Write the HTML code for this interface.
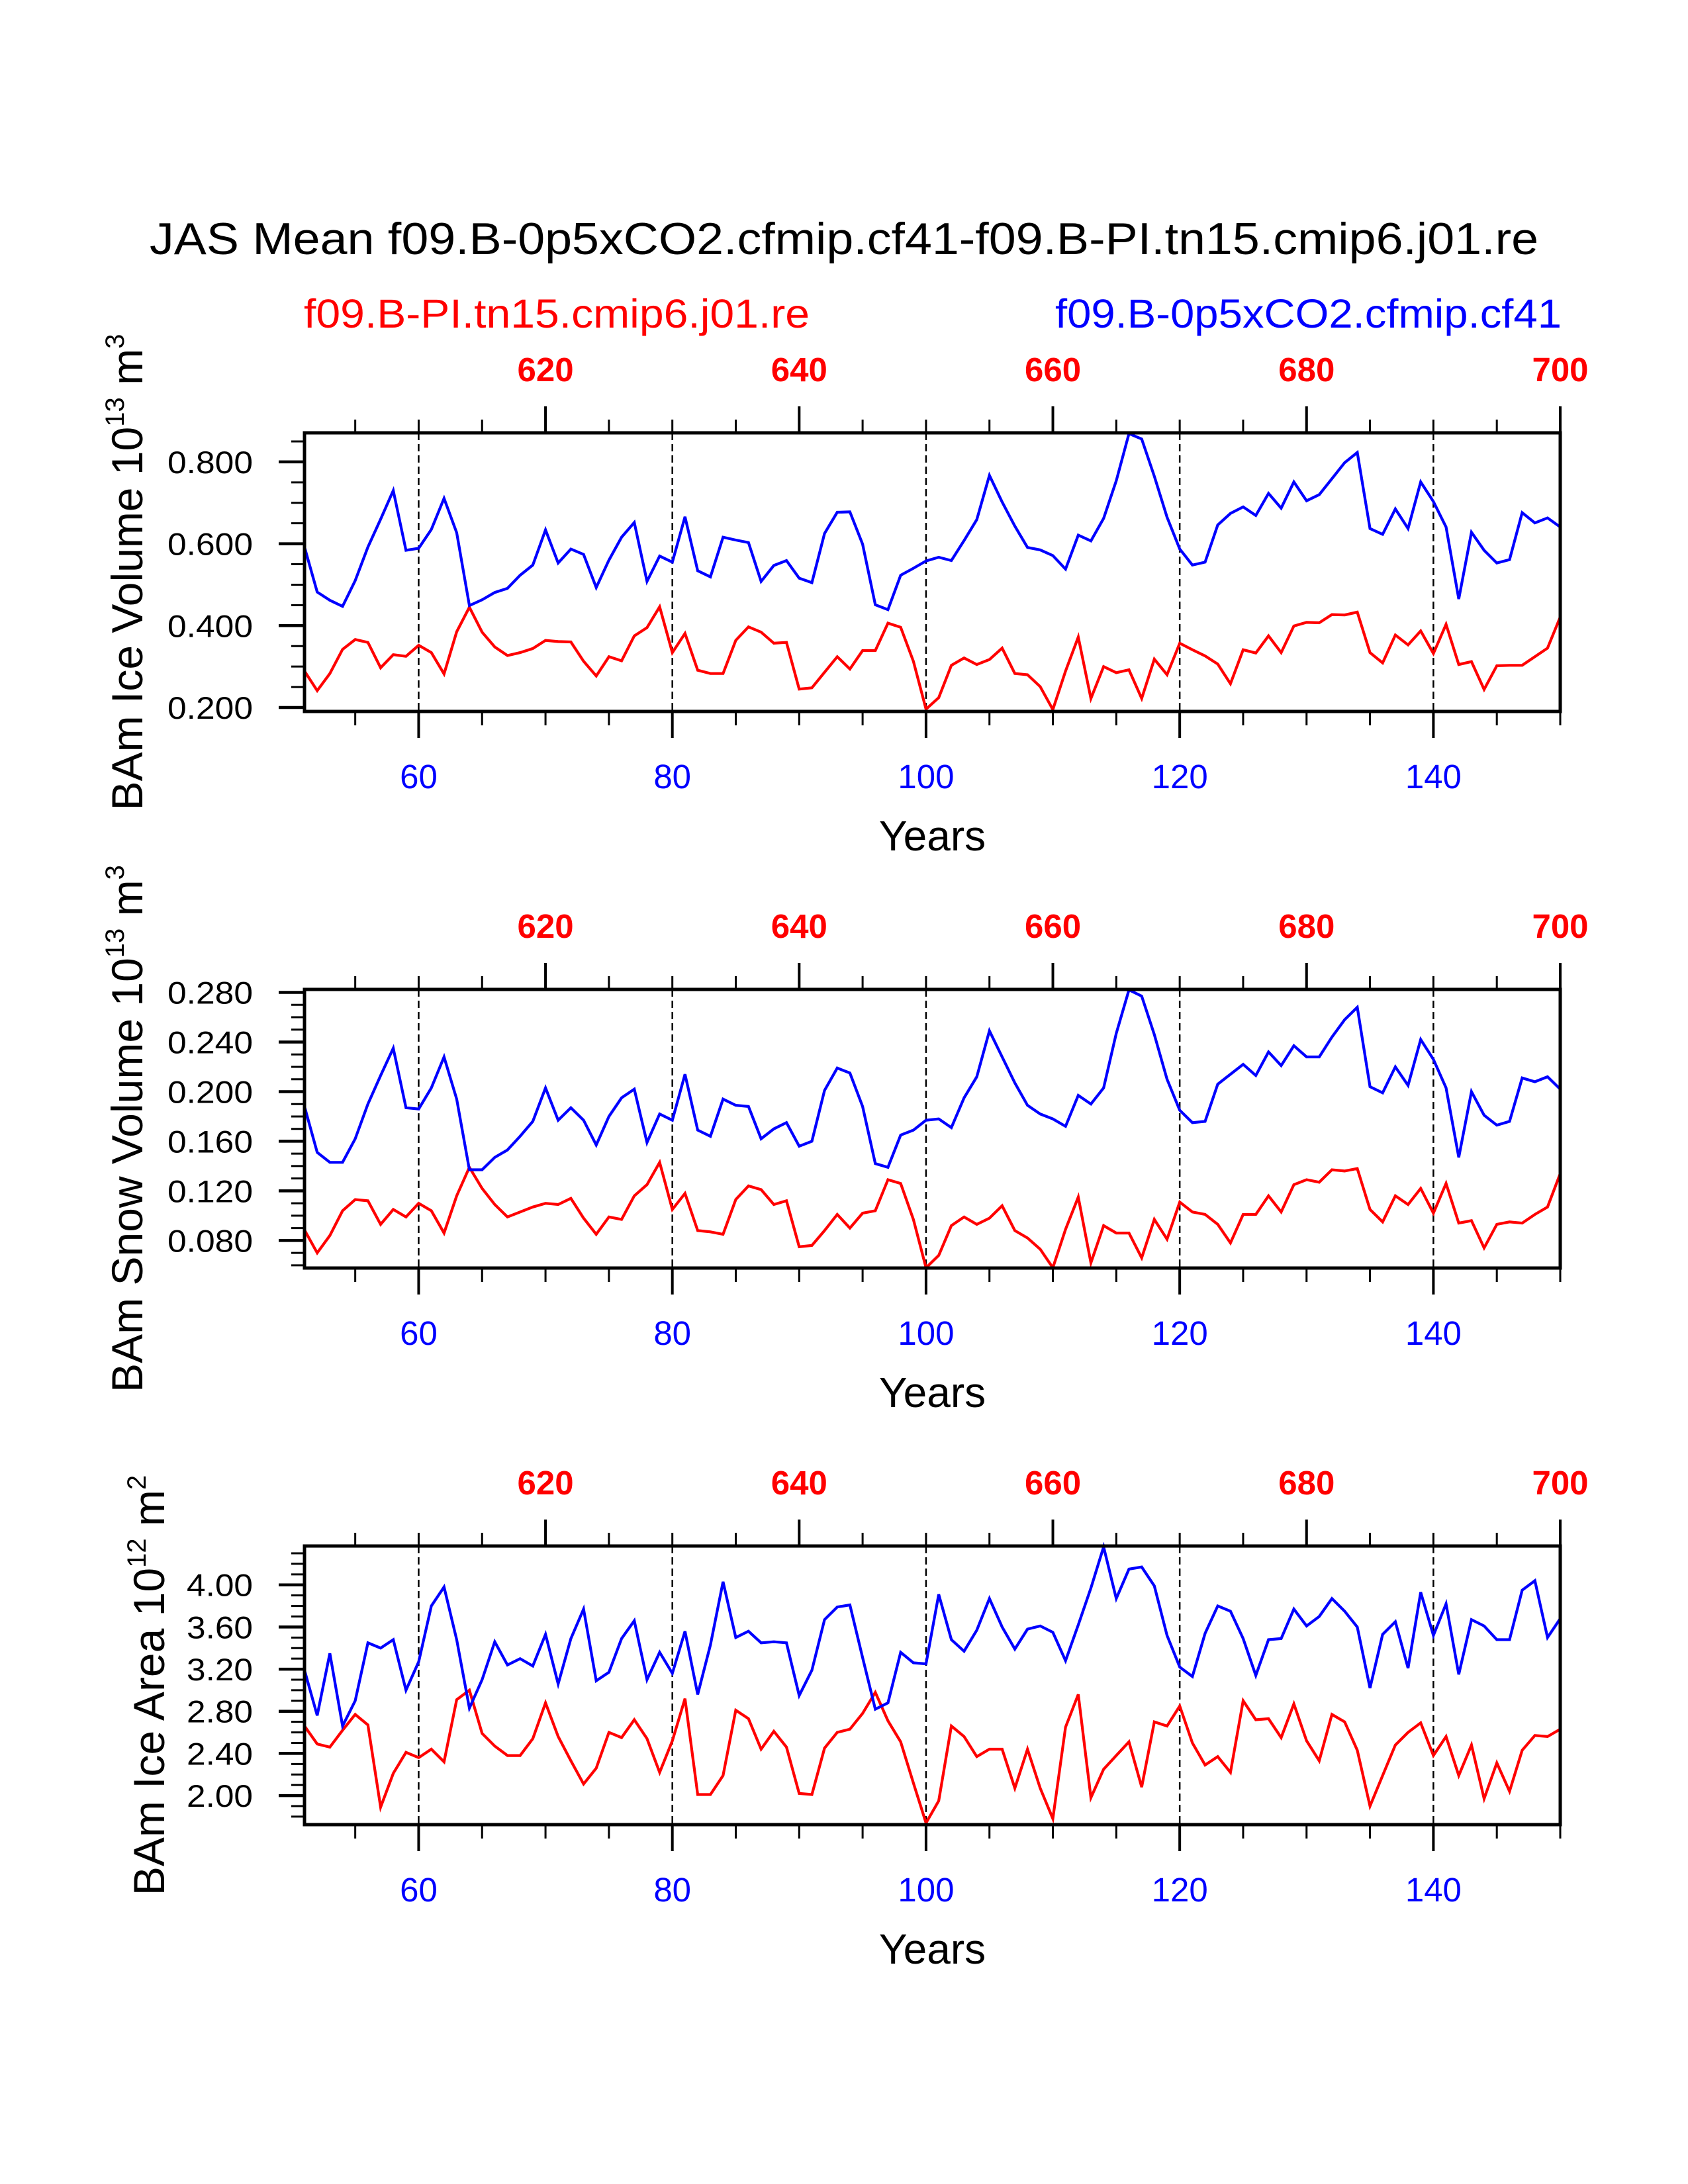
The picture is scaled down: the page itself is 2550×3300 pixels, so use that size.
<!DOCTYPE html>
<html><head><meta charset="utf-8"><style>
html,body{margin:0;padding:0;background:#fff;}
svg{display:block;font-family:"Liberation Sans",Arial,sans-serif;}
</style></head><body>
<svg id="fig" width="2550" height="3300" viewBox="0 0 2550 3300" xmlns="http://www.w3.org/2000/svg">
<rect x="0" y="0" width="2550" height="3300" fill="#fff"/>
<text x="1275" y="384" font-size="68" text-anchor="middle" fill="#000" textLength="2098" lengthAdjust="spacingAndGlyphs">JAS Mean f09.B-0p5xCO2.cfmip.cf41-f09.B-PI.tn15.cmip6.j01.re</text>
<text x="459" y="495" font-size="61" fill="#ff0000" textLength="764" lengthAdjust="spacingAndGlyphs">f09.B-PI.tn15.cmip6.j01.re</text>
<text x="1594" y="495" font-size="61" fill="#0000ff" textLength="765" lengthAdjust="spacingAndGlyphs">f09.B-0p5xCO2.cfmip.cf41</text>
</svg>
<script>
// Shared x data
const yearStart = 51;
const yearEnd = 150;
const bottomTicks = [60, 80, 100, 120, 140];
const topTickLabels = ["620", "640", "660", "680", "700"];
const topTickYears = [70, 90, 110, 130, 150];

// Panel 1: Ice Volume
const iceVolRed = [0.289,0.241,0.283,0.342,0.366,0.359,0.297,0.329,0.325,0.352,0.334,0.282,0.385,0.445,0.384,0.348,0.327,0.334,0.344,0.364,0.361,0.360,0.313,0.277,0.324,0.314,0.375,0.395,0.446,0.334,0.381,0.291,0.283,0.283,0.364,0.397,0.384,0.357,0.359,0.245,0.248,0.286,0.324,0.294,0.339,0.339,0.406,0.396,0.313,0.196,
0.224,0.303,0.321,0.305,0.317,0.345,0.283,0.280,0.251,0.195,0.289,0.372,0.222,0.300,0.285,0.292,0.222,0.318,0.280,0.357,0.341,0.326,0.306,0.258,0.341,0.333,0.375,0.334,0.399,0.408,0.407,0.427,0.426,0.433,0.334,0.309,0.377,0.353,0.387,0.332,0.403,0.305,0.312,0.244,0.302,0.303,0.303,0.324,0.345,0.421];
const iceVolBlue = [0.592,0.482,0.462,0.447,0.510,0.592,0.660,0.730,0.584,0.589,0.635,0.711,0.627,0.449,0.463,0.481,0.491,0.523,0.548,0.634,0.553,0.587,0.574,0.493,0.560,0.616,0.652,0.508,0.570,0.555,0.666,0.534,0.519,0.616,0.609,0.603,0.508,0.547,0.559,0.516,0.505,0.625,0.677,0.678,0.599,0.451,0.439,0.523,0.540,0.558,
0.567,0.559,0.608,0.659,0.767,0.702,0.643,0.591,0.585,0.571,0.538,0.621,0.607,0.662,0.754,0.869,0.856,0.765,0.665,0.587,0.548,0.555,0.646,0.674,0.690,0.669,0.723,0.687,0.751,0.705,0.720,0.759,0.798,0.823,0.637,0.623,0.685,0.637,0.751,0.703,0.641,0.465,0.628,0.584,0.553,0.561,0.676,0.651,0.663,0.641];
const iceVolTicks = ["0.200","0.400","0.600","0.800"];

// Panel 2: Snow Volume
const snowVolRed = [0.0885,0.070,0.084,0.104,0.113,0.112,0.093,0.105,0.099,0.110,0.104,0.086,0.116,0.139,0.122,0.109,0.099,0.103,0.107,0.110,0.109,0.114,0.098,0.085,0.099,0.097,0.116,0.125,0.143,0.105,0.118,0.088,0.087,0.085,0.113,0.124,0.121,0.109,0.112,0.075,0.076,0.088,0.101,0.090,0.102,0.104,0.129,0.126,0.097,0.058,
0.068,0.092,0.099,0.093,0.098,0.108,0.088,0.082,0.073,0.058,0.089,0.115,0.062,0.092,0.086,0.086,0.066,0.097,0.081,0.111,0.103,0.101,0.093,0.078,0.101,0.101,0.116,0.103,0.125,0.129,0.127,0.137,0.136,0.138,0.105,0.095,0.116,0.109,0.122,0.102,0.126,0.094,0.096,0.074,0.093,0.095,0.094,0.101,0.107,0.134];
const snowVolBlue = [0.188,0.151,0.143,0.143,0.162,0.190,0.213,0.235,0.187,0.186,0.203,0.228,0.194,0.137,0.137,0.147,0.153,0.164,0.176,0.203,0.177,0.187,0.177,0.157,0.180,0.195,0.202,0.159,0.182,0.177,0.214,0.169,0.164,0.194,0.189,0.188,0.162,0.170,0.175,0.156,0.160,0.201,0.219,0.215,0.188,0.142,0.139,0.165,0.169,0.177,
0.178,0.171,0.195,0.212,0.249,0.228,0.207,0.189,0.182,0.178,0.172,0.197,0.190,0.203,0.247,0.282,0.277,0.246,0.210,0.185,0.175,0.176,0.206,0.214,0.222,0.213,0.232,0.221,0.237,0.228,0.228,0.244,0.258,0.268,0.204,0.199,0.220,0.205,0.242,0.226,0.203,0.147,0.200,0.181,0.173,0.176,0.211,0.208,0.212,0.202];
const snowVolTicks = ["0.080","0.120","0.160","0.200","0.240","0.280"];

// Panel 3: Ice Area
const iceAreaRed = [2.66,2.49,2.46,2.62,2.77,2.67,1.89,2.21,2.41,2.36,2.44,2.32,2.91,3.00,2.59,2.47,2.38,2.38,2.54,2.88,2.56,2.33,2.11,2.26,2.60,2.55,2.72,2.54,2.22,2.52,2.92,2.01,2.01,2.19,2.81,2.73,2.44,2.61,2.46,2.02,2.01,2.45,2.60,2.63,2.78,2.98,2.71,2.51,2.12,1.74,
1.95,2.66,2.56,2.37,2.44,2.44,2.07,2.44,2.07,1.78,2.65,2.96,1.98,2.25,2.38,2.51,2.08,2.70,2.66,2.85,2.50,2.29,2.37,2.22,2.90,2.72,2.73,2.55,2.87,2.52,2.33,2.77,2.70,2.43,1.90,2.19,2.48,2.60,2.69,2.38,2.56,2.19,2.48,1.97,2.31,2.04,2.43,2.57,2.56,2.63];
const iceAreaBlue = [3.19,2.76,3.35,2.66,2.90,3.45,3.40,3.48,3.00,3.27,3.80,3.98,3.48,2.83,3.10,3.46,3.24,3.30,3.23,3.53,3.06,3.49,3.77,3.09,3.17,3.49,3.66,3.10,3.36,3.16,3.56,2.96,3.43,4.03,3.50,3.56,3.45,3.46,3.45,2.95,3.19,3.67,3.79,3.81,3.31,2.82,2.88,3.36,3.26,3.25,
3.91,3.48,3.37,3.57,3.87,3.60,3.39,3.58,3.61,3.55,3.28,3.62,3.97,4.36,3.87,4.15,4.17,3.99,3.52,3.22,3.13,3.54,3.80,3.75,3.49,3.14,3.48,3.49,3.77,3.61,3.70,3.87,3.75,3.60,3.02,3.53,3.65,3.21,3.93,3.52,3.82,3.15,3.67,3.61,3.48,3.48,3.95,4.04,3.50,3.68];
const iceAreaTicks = ["2.00","2.40","2.80","3.20","3.60","4.00"];

const NS = "http://www.w3.org/2000/svg";
const svg = document.getElementById("fig");
function mk(tag, attrs, parent) {
  const e = document.createElementNS(NS, tag);
  for (const k in attrs) e.setAttribute(k, attrs[k]);
  (parent || svg).appendChild(e);
  return e;
}

const X0 = 460, X1 = 2357;
function xScale(yr) { return X0 + (yr - yearStart) / (yearEnd - yearStart) * (X1 - X0); }

const panels = [
  {key:"ice-volume", top:654, bottom:1075, vmin:0.1903, vmax:0.871, minorStep:0.05, red:iceVolRed, blue:iceVolBlue, ticks:iceVolTicks,
   title:["BAm Ice Volume 10","13"," m","3"], titleX:215},
  {key:"snow-volume", top:1495, bottom:1916, vmin:0.0578, vmax:0.2824, minorStep:0.01, red:snowVolRed, blue:snowVolBlue, ticks:snowVolTicks,
   title:["BAm Snow Volume 10","13"," m","3"], titleX:215},
  {key:"ice-area", top:2336, bottom:2757, vmin:1.724, vmax:4.369, minorStep:0.1, red:iceAreaRed, blue:iceAreaBlue, ticks:iceAreaTicks,
   title:["BAm Ice Area 10","12"," m","2"], titleX:248}
];

panels.forEach(function(p){
  const g = mk("g", {});
  
  
  const yScale = function(v){ return p.bottom - (v - p.vmin) / (p.vmax - p.vmin) * (p.bottom - p.top); };

  bottomTicks.forEach(function(t){
    const l = mk("line", {x1:xScale(t), x2:xScale(t), y1:p.top, y2:p.bottom, stroke:"#000", "stroke-width":2.5, "stroke-dasharray":"11 6"}, g);
    
    
  });

  [["red","#ff0000"],["blue","#0000ff"]].forEach(function(s){
    const vals = p[s[0]];
    let d = "";
    vals.forEach(function(v,i){ d += (i ? "L" : "M") + xScale(yearStart + i).toFixed(1) + "," + yScale(v).toFixed(1); });
    const path = mk("path", {d:d, fill:"none", stroke:s[1], "stroke-width":4.2, "stroke-linejoin":"miter"}, g);
    
    
  });

  const fr = mk("rect", {x:X0, y:p.top, width:X1-X0, height:p.bottom-p.top, fill:"none", stroke:"#000", "stroke-width":5}, g);
  
  

  for (let yr = 55; yr <= 150; yr += 5) {
    const major = bottomTicks.indexOf(yr) >= 0;
    const t = mk("line", {x1:xScale(yr), x2:xScale(yr), y1:p.bottom, y2:p.bottom + (major ? 40 : 21), stroke:"#000", "stroke-width":major ? 4 : 3}, g);
    
    
  }
  bottomTicks.forEach(function(t){
    const tx = mk("text", {x:xScale(t), y:p.bottom + 116, "font-size":51, "text-anchor":"middle", fill:"#0000ff"}, g);
    tx.textContent = String(t);
    
    
  });
  for (let yr = 55; yr <= 150; yr += 5) {
    const major = topTickYears.indexOf(yr) >= 0;
    const t = mk("line", {x1:xScale(yr), x2:xScale(yr), y1:p.top, y2:p.top - (major ? 40 : 20), stroke:"#000", "stroke-width":major ? 4 : 3}, g);
    
    
  }
  topTickYears.forEach(function(yr, i){
    const tx = mk("text", {x:xScale(yr), y:p.top - 78, "font-size":51, "font-weight":"bold", "text-anchor":"middle", fill:"#ff0000"}, g);
    tx.textContent = topTickLabels[i];
    
    
  });
  const xt = mk("text", {x:(X0+X1)/2, y:p.bottom + 210, "font-size":64, "text-anchor":"middle", fill:"#000"}, g);
  xt.textContent = "Years";
  
  

  const startMinor = Math.ceil(p.vmin / p.minorStep - 1e-6);
  for (let k = startMinor; k * p.minorStep <= p.vmax + 1e-9; k++) {
    const v = k * p.minorStep;
    const isMajor = p.ticks.some(function(s){ return Math.abs(parseFloat(s) - v) < p.minorStep / 10; });
    const t = mk("line", {x1:X0 - (isMajor ? 39 : 20), x2:X0, y1:yScale(v), y2:yScale(v), stroke:"#000", "stroke-width":isMajor ? 4.5 : 3}, g);
    
    
  }
  p.ticks.forEach(function(s){
    const w = s.length === 5 ? 129 : 100;
    const tx = mk("text", {x:382 - w, y:yScale(parseFloat(s)) + 17, "font-size":47, fill:"#000", textLength:w, lengthAdjust:"spacingAndGlyphs"}, g);
    tx.textContent = s;
    
    
  });

  const cy = (p.top + p.bottom) / 2;
  const yt = mk("text", {x:0, y:0, "font-size":66, "text-anchor":"middle", fill:"#000", transform:"translate(" + p.titleX + "," + cy + ") rotate(-90)"}, g);
  
  
  const a = mk("tspan", {}, yt); a.textContent = p.title[0];
  const b = mk("tspan", {"font-size":40, dy:-28}, yt); b.textContent = p.title[1];
  const c = mk("tspan", {dy:28}, yt); c.textContent = p.title[2];
  const d = mk("tspan", {"font-size":40, dy:-28}, yt); d.textContent = p.title[3];
});
</script>
</body></html>
